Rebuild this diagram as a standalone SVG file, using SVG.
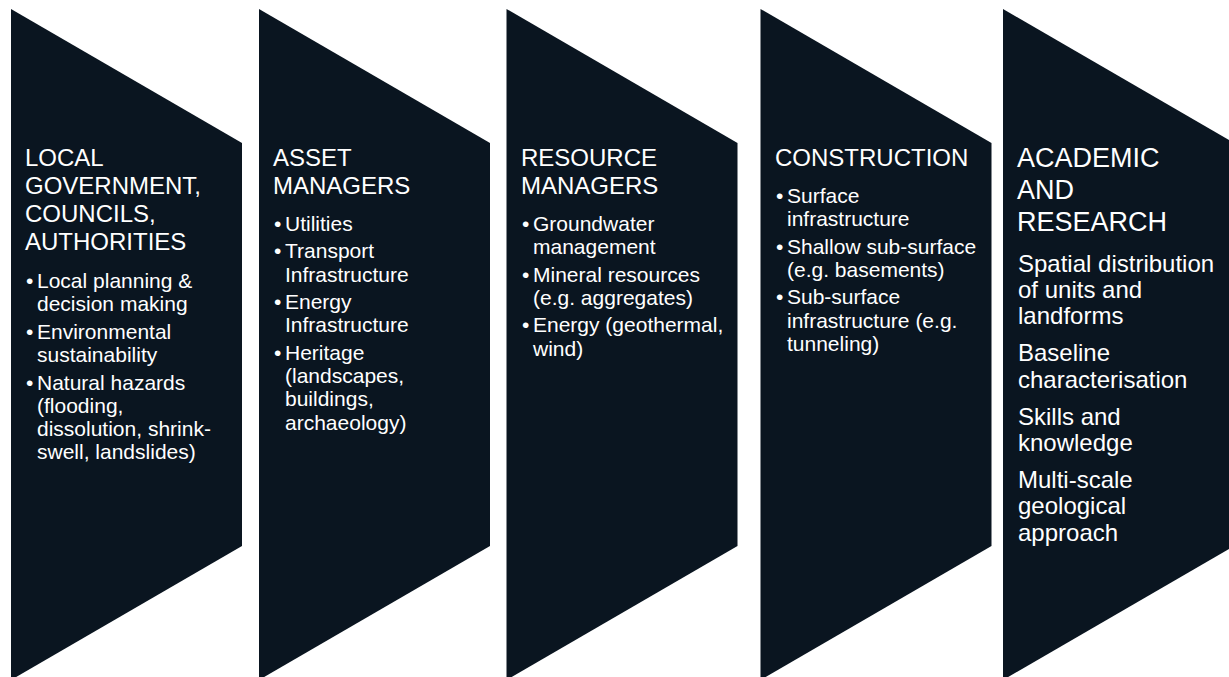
<svg xmlns="http://www.w3.org/2000/svg" width="1229" height="677" viewBox="0 0 1229 677">
<style>
.shape{fill:#0A1520;}
text{font-family:"Liberation Sans",Arial,sans-serif;fill:#FFFFFF;}
.t{font-size:24px;}
.b{font-size:21px;}
.ta{font-size:27px;}
.ba{font-size:24px;}
</style>
<rect width="1229" height="677" fill="#FFFFFF"/>
<g id="connectors"></g>
<g id="node-local-government">
<polygon class="shape" points="11,9 242,143 242,546 11,680"/>
<text class="t"><tspan x="25" y="166">LOCAL</tspan><tspan x="25" y="194">GOVERNMENT,</tspan><tspan x="25" y="222">COUNCILS,</tspan><tspan x="25" y="250">AUTHORITIES</tspan></text>
<text class="b"><tspan x="26" y="287.5">•</tspan><tspan x="37" y="287.5">Local planning &amp;</tspan><tspan x="37" y="310.8">decision making</tspan><tspan x="26" y="338.5">•</tspan><tspan x="37" y="338.5">Environmental</tspan><tspan x="37" y="361.8">sustainability</tspan><tspan x="26" y="389.5">•</tspan><tspan x="37" y="389.5">Natural hazards</tspan><tspan x="37" y="412.8">(flooding,</tspan><tspan x="37" y="436.1">dissolution, shrink-</tspan><tspan x="37" y="459.4">swell, landslides)</tspan></text>
</g>
<g id="node-asset-managers">
<polygon class="shape" points="259,9 490,143 490,546 259,680"/>
<text class="t"><tspan x="273" y="166">ASSET</tspan><tspan x="273" y="194">MANAGERS</tspan></text>
<text class="b"><tspan x="274" y="230.7">•</tspan><tspan x="285" y="230.7">Utilities</tspan><tspan x="274" y="258.2">•</tspan><tspan x="285" y="258.2">Transport</tspan><tspan x="285" y="281.5">Infrastructure</tspan><tspan x="274" y="309">•</tspan><tspan x="285" y="309">Energy</tspan><tspan x="285" y="332.3">Infrastructure</tspan><tspan x="274" y="359.8">•</tspan><tspan x="285" y="359.8">Heritage</tspan><tspan x="285" y="383.1">(landscapes,</tspan><tspan x="285" y="406.4">buildings,</tspan><tspan x="285" y="429.7">archaeology)</tspan></text>
</g>
<g id="node-resource-managers">
<polygon class="shape" points="506.5,9 737.5,143 737.5,546 506.5,680"/>
<text class="t"><tspan x="521" y="166">RESOURCE</tspan><tspan x="521" y="194">MANAGERS</tspan></text>
<text class="b"><tspan x="522" y="230.7">•</tspan><tspan x="533" y="230.7">Groundwater</tspan><tspan x="533" y="254">management</tspan><tspan x="522" y="281.5">•</tspan><tspan x="533" y="281.5">Mineral resources</tspan><tspan x="533" y="304.8">(e.g. aggregates)</tspan><tspan x="522" y="332.3">•</tspan><tspan x="533" y="332.3">Energy (geothermal,</tspan><tspan x="533" y="355.6">wind)</tspan></text>
</g>
<g id="node-construction">
<polygon class="shape" points="760.5,9 991.5,143 991.5,546 760.5,680"/>
<text class="t"><tspan x="775" y="166">CONSTRUCTION</tspan></text>
<text class="b"><tspan x="776" y="202.7">•</tspan><tspan x="787" y="202.7">Surface</tspan><tspan x="787" y="226">infrastructure</tspan><tspan x="776" y="253.5">•</tspan><tspan x="787" y="253.5">Shallow sub-surface</tspan><tspan x="787" y="276.8">(e.g. basements)</tspan><tspan x="776" y="304.3">•</tspan><tspan x="787" y="304.3">Sub-surface</tspan><tspan x="787" y="327.6">infrastructure (e.g.</tspan><tspan x="787" y="350.9">tunneling)</tspan></text>
</g>
<g id="node-academic-research">
<polygon class="shape" points="1003,9 1234,143 1234,546 1003,680"/>
<text class="ta"><tspan x="1017" y="166.7">ACADEMIC</tspan><tspan x="1017" y="198.5">AND</tspan><tspan x="1017" y="230.5">RESEARCH</tspan></text>
<text class="ba"><tspan x="1018" y="271.7">Spatial distribution</tspan><tspan x="1018" y="298">of units and</tspan><tspan x="1018" y="324.3">landforms</tspan><tspan x="1018" y="361.3">Baseline</tspan><tspan x="1018" y="387.6">characterisation</tspan><tspan x="1018" y="424.6">Skills and</tspan><tspan x="1018" y="450.9">knowledge</tspan><tspan x="1018" y="487.9">Multi-scale</tspan><tspan x="1018" y="514.2">geological</tspan><tspan x="1018" y="540.5">approach</tspan></text>
</g>
</svg>
